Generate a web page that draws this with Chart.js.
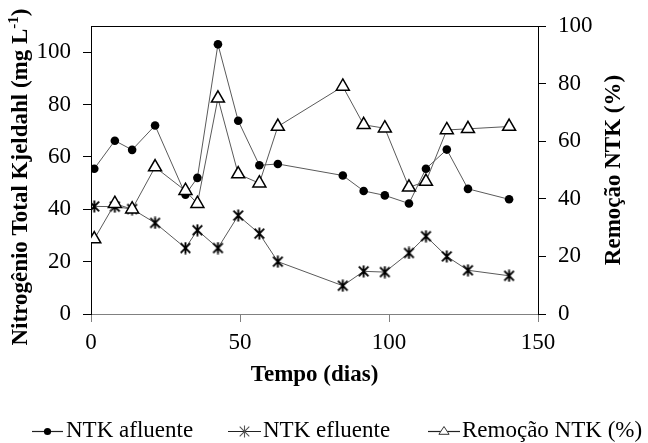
<!DOCTYPE html>
<html><head><meta charset="utf-8">
<script src="https://cdn.jsdelivr.net/npm/chart.js@4/dist/chart.umd.min.js"></script>
<style>html,body{margin:0;padding:0;background:#fff;}#wrap{width:648px;height:443px;position:relative;}canvas{display:block;}</style>
</head><body><div id="wrap"><canvas id="c" width="648" height="443"></canvas></div>
<script>
const days = [1.1, 8, 13.8, 21.5, 31.7, 35.7, 42.6, 49.4, 56.5, 62.7, 84.5, 91.5, 98.6, 106.7, 112.4, 119.4, 126.5, 140.3];
const ntkAfluente = [55.5, 66.2, 62.7, 72, 45.6, 52, 103, 73.8, 56.8, 57.3, 52.9, 47, 45.3, 42.2, 55.5, 62.8, 47.8, 43.8];
const ntkEfluente = [41.1, 41, 40.1, 34.8, 25.2, 32, 25.2, 37.6, 30.7, 20, 10.8, 16.3, 16, 23.3, 29.7, 22, 16.7, 14.6];
const remocaoNTK = [26, 38.3, 36.4, 51, 42.8, 38.3, 74.9, 48.6, 45.4, 65.1, 79, 65.7, 64.5, 44, 46, 63.9, 64.3, 65.1];
const xTicks = [0, 50, 100, 150];
const leftTicks = [0, 20, 40, 60, 80, 100];
const rightTicks = [0, 20, 40, 60, 80, 100];
const seriesNames = ['NTK afluente', 'NTK efluente', 'Remoção NTK (%)'];
const xTitle = 'Tempo (dias)';
const leftTitleMain = 'Nitrogênio Total Kjeldahl (mg L';
const leftTitleSup = '-1';
const leftTitleEnd = ')';
const rightTitle = 'Remoção NTK (%)';

const FONT = "'Liberation Serif', 'Times New Roman', serif";
const LINE = '#5a5a5a';
const FS = 23;

function asterisk(size, color, lw) {
  const c = document.createElement('canvas');
  c.width = size; c.height = size;
  const g = c.getContext('2d');
  const m = size / 2, r = size / 2 - 0.5;
  g.strokeStyle = color; g.lineWidth = lw; g.lineCap = 'butt';
  g.beginPath();
  g.moveTo(m, m - r); g.lineTo(m, m + r);
  const d = r * 0.8;
  g.moveTo(m - d, m - d); g.lineTo(m + d, m + d);
  g.moveTo(m - d, m + d); g.lineTo(m + d, m - d);
  g.stroke();
  return c;
}
const starImg = asterisk(13, '#000', 1.9);

const toPts = (ys) => days.map((d, i) => ({ x: d, y: ys[i] }));

const extras = {
  id: 'extras',
  afterDraw(chart) {
    const ctx = chart.ctx, a = chart.chartArea;
    ctx.save();
    ctx.strokeStyle = '#000'; ctx.lineWidth = 1;
    ctx.beginPath(); ctx.moveTo(a.left, a.top + 0.5); ctx.lineTo(a.right, a.top + 0.5); ctx.stroke();
    ctx.fillStyle = '#000';
    ctx.textBaseline = 'middle'; ctx.textAlign = 'left';
    const big = 'bold ' + FS + 'px ' + FONT, small = 'bold 15px ' + FONT;
    ctx.font = big; const w1 = ctx.measureText(leftTitleMain).width; const w3 = ctx.measureText(leftTitleEnd).width;
    ctx.font = small; const w2 = ctx.measureText(leftTitleSup).width;
    const tot = w1 + w2 + w3;
    ctx.save();
    ctx.translate(21, 177); ctx.rotate(-Math.PI / 2);
    let x = -tot / 2;
    ctx.font = big; ctx.fillText(leftTitleMain, x, 0); x += w1;
    ctx.font = small; ctx.fillText(leftTitleSup, x, -7); x += w2;
    ctx.font = big; ctx.fillText(leftTitleEnd, x, 0);
    ctx.restore();
    ctx.save();
    ctx.translate(614, (a.top + a.bottom) / 2); ctx.rotate(-Math.PI / 2);
    ctx.font = big; ctx.textAlign = 'center';
    ctx.fillText(rightTitle, 0, 0);
    ctx.restore();
    const ly = 431;
    const items = [
      { x0: 32, x1: 63, tx: 66, mark: 'circle' },
      { x0: 228, x1: 261, tx: 263, mark: 'star' },
      { x0: 428, x1: 460, tx: 462, mark: 'tri' }
    ];
    items.forEach((it, i) => {
      ctx.strokeStyle = '#222'; ctx.lineWidth = 1.2;
      ctx.beginPath(); ctx.moveTo(it.x0, ly + 0.5); ctx.lineTo(it.x1, ly + 0.5); ctx.stroke();
      const cx = (it.x0 + it.x1) / 2;
      if (it.mark === 'circle') {
        ctx.fillStyle = '#000'; ctx.beginPath(); ctx.arc(cx, ly + 0.5, 3.6, 0, Math.PI * 2); ctx.fill();
      } else if (it.mark === 'star') {
        ctx.drawImage(asterisk(13, '#555', 1.1), cx - 6.5, ly + 0.5 - 6.5);
      } else {
        const r = 6;
        ctx.fillStyle = '#fff'; ctx.strokeStyle = '#333'; ctx.lineWidth = 1;
        ctx.beginPath();
        ctx.moveTo(cx, ly - r * 0.75);
        ctx.lineTo(cx + r * 0.85, ly + r * 0.55);
        ctx.lineTo(cx - r * 0.85, ly + r * 0.55);
        ctx.closePath(); ctx.fill(); ctx.stroke();
      }
      ctx.fillStyle = '#000'; ctx.font = FS + 'px ' + FONT;
      ctx.textAlign = 'left'; ctx.textBaseline = 'middle';
      ctx.fillText(seriesNames[i], it.tx, ly);
    });
    ctx.restore();
  }
};

new Chart(document.getElementById('c'), {
  type: 'line',
  data: {
    datasets: [
      { label: seriesNames[0], data: toPts(ntkAfluente), yAxisID: 'y', borderColor: LINE, borderWidth: 1,
        pointStyle: 'circle', pointRadius: 4.3, pointBackgroundColor: '#000', pointBorderColor: '#000', pointBorderWidth: 0, order: 2 },
      { label: seriesNames[1], data: toPts(ntkEfluente), yAxisID: 'y', borderColor: LINE, borderWidth: 1,
        pointStyle: starImg, pointRadius: 6, order: 1 },
      { label: seriesNames[2], data: toPts(remocaoNTK), yAxisID: 'y1', borderColor: LINE, borderWidth: 1,
        pointStyle: 'triangle', pointRadius: 7.5, pointBackgroundColor: '#fff', pointBorderColor: '#000', pointBorderWidth: 1.5, order: 0 }
    ]
  },
  options: {
    responsive: false,
    animation: false,
    devicePixelRatio: 1,
    layout: { padding: { top: 26, left: 0, right: 0, bottom: 0 } },
    elements: { line: { tension: 0 } },
    plugins: { legend: { display: false }, tooltip: { enabled: false } },
    scales: {
      x: {
        type: 'linear', position: 'bottom', min: 0, max: 150,
        afterBuildTicks: (ax) => { ax.ticks = xTicks.map(v => ({ value: v })); },
        afterFit: (ax) => { ax.height = 129; },
        border: { color: '#808080', width: 1 },
        grid: { drawOnChartArea: false, drawTicks: true, tickLength: 8, color: '#808080' },
        ticks: { color: '#000', font: { family: FONT, size: FS }, padding: 7, maxRotation: 0 },
        title: { display: true, text: xTitle, color: '#000', font: { family: FONT, size: FS, weight: 'bold' }, padding: { top: 0, bottom: 54 } }
      },
      y: {
        type: 'linear', position: 'left', min: 0, max: 110,
        afterBuildTicks: (ax) => { ax.ticks = leftTicks.map(v => ({ value: v })); },
        afterFit: (ax) => { ax.width = 91; },
        border: { color: '#000', width: 1 },
        grid: { drawOnChartArea: false, drawTicks: true, tickLength: 8, color: '#000' },
        ticks: { color: '#000', font: { family: FONT, size: FS }, padding: 12 }
      },
      y1: {
        type: 'linear', position: 'right', min: 0, max: 100,
        afterBuildTicks: (ax) => { ax.ticks = rightTicks.map(v => ({ value: v })); },
        afterFit: (ax) => { ax.width = 110; },
        border: { color: '#000', width: 1 },
        grid: { drawOnChartArea: false, drawTicks: true, tickLength: 8, color: '#000' },
        ticks: { color: '#000', font: { family: FONT, size: FS }, padding: 12 }
      }
    }
  },
  plugins: [extras]
});
</script></body></html>
